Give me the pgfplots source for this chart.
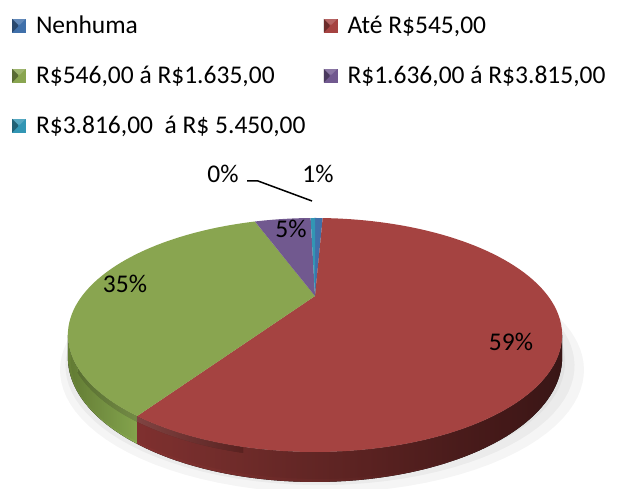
\documentclass[border=0pt]{standalone}
\usepackage{pgfplots}
\pgfplotsset{compat=1.18}
\usepgfplotslibrary{fillbetween}
\usepackage{fontspec}
\setmainfont{Carlito}
\definecolor{cBlue}{RGB}{64,112,170}
\definecolor{cRed}{RGB}{165,67,65}
\definecolor{cGreen}{RGB}{137,165,80}
\definecolor{cPurple}{RGB}{113,89,143}
\definecolor{cTeal}{RGB}{50,150,180}
\definecolor{sRedL}{RGB}{145,56,54}
\definecolor{sRedM}{RGB}{115,44,43}
\definecolor{sRedR}{RGB}{66,26,26}
\definecolor{sRedH}{RGB}{228,135,132}
\definecolor{sGreenL}{RGB}{112,140,60}
\definecolor{sGreenR}{RGB}{150,186,88}
\definecolor{sGreenH}{RGB}{192,226,118}
\newcommand{\bigfont}{\fontsize{25.5bp}{30bp}\selectfont}
% projection of the pie (angle t clockwise from the top, degrees)
\newcommand{\PX}[1]{315+233*sin(#1)/(1+cos(#1)/3)}
\newcommand{\PY}[1]{193+104*cos(#1)/(1+cos(#1)/3)}
\newcommand{\PYB}[1]{193+(104*cos(#1)-20)/(1+cos(#1)/3)}
\newcommand{\PYH}[1]{193+(104*cos(#1)-4)/(1+cos(#1)/3)}
% shares in percent
\def\vNen{0.7}\def\vAte{58.6}\def\vMid{35.2}\def\vHi{5.1}\def\vTop{0.4}
\pgfmathsetmacro\aO{0}
\pgfmathsetmacro\aA{\aO+3.6*\vNen}
\pgfmathsetmacro\aB{\aA+3.6*\vAte}
\pgfmathsetmacro\aC{\aB+3.6*\vMid}
\pgfmathsetmacro\aD{\aC+3.6*\vHi}
\pgfmathsetmacro\aE{\aD+3.6*\vTop}
\begin{document}%
\begin{tikzpicture}
\begin{axis}[width=617bp,height=489bp,scale only axis,
  xmin=0,xmax=617,ymin=0,ymax=489,hide axis,clip=false,
  legend columns=2,
  legend style={at={(axis cs:4,475)},anchor=north west,draw=none,fill=none,
    inner sep=0pt,outer sep=0pt,font=\bigfont,row sep=27bp,column sep=10bp,
    nodes={inner xsep=0pt,inner ysep=2bp}},
  legend cell align=left,
  legend image code/.code={
    \path (-8bp,0bp);
    \fill[#1] (0bp,-7bp) rectangle (14bp,7bp);
    \fill[black,opacity=0.35] (0bp,-7bp) -- (6bp,-1bp) -- (6bp,1bp) -- (0bp,7bp) -- cycle;
    \fill[white,opacity=0.18] (0bp,7bp) -- (14bp,7bp) -- (8bp,1bp) -- (6bp,1bp) -- cycle;
  },
]
% soft shadow
\addplot[forget plot,draw=none,fill=black,opacity=0.04,domain=0:360,samples=120,variable=\t]
  ({322+1.06*233*sin(\t)/(1+cos(\t)/3)},{160+1.05*104*cos(\t)/(1+cos(\t)/3)}) -- cycle;
\addplot[forget plot,draw=none,fill=black,opacity=0.04,domain=0:360,samples=120,variable=\t]
  ({320+1.03*233*sin(\t)/(1+cos(\t)/3)},{163+1.02*104*cos(\t)/(1+cos(\t)/3)}) -- cycle;
\addplot[forget plot,draw=none,fill=black,opacity=0.04,domain=0:360,samples=120,variable=\t]
  ({318+1.0*233*sin(\t)/(1+cos(\t)/3)},{166+1.0*104*cos(\t)/(1+cos(\t)/3)}) -- cycle;
% sides
\addplot[name path=rt,draw=none,forget plot,domain=109.47:\aB,samples=60,variable=\t]({\PX{\t}},{\PY{\t}});
\addplot[name path=rb,draw=none,forget plot,domain=109.47:\aB,samples=60,variable=\t]({\PX{\t}},{\PYB{\t}});
\addplot[forget plot,left color=sRedL,middle color=sRedM,right color=sRedR] fill between[of=rt and rb];
\addplot[name path=gt,draw=none,forget plot,domain=\aB:250.53,samples=30,variable=\t]({\PX{\t}},{\PY{\t}});
\addplot[name path=gb,draw=none,forget plot,domain=\aB:250.53,samples=30,variable=\t]({\PX{\t}},{\PYB{\t}});
\addplot[forget plot,left color=sGreenL,right color=sGreenR] fill between[of=gt and gb];
% bevel highlights along the rim
\addplot[name path=rht,draw=none,forget plot,domain=192:\aB,samples=30,variable=\t]({\PX{\t}},{\PY{\t}});
\addplot[name path=rhb,draw=none,forget plot,domain=192:\aB,samples=30,variable=\t]({\PX{\t}},{\PYH{\t}});
\addplot[forget plot,left color=sRedH,right color=sRedL,opacity=0.45] fill between[of=rht and rhb];
\addplot[name path=ght,draw=none,forget plot,domain=\aB:236,samples=20,variable=\t]({\PX{\t}},{\PY{\t}});
\addplot[name path=ghb,draw=none,forget plot,domain=\aB:236,samples=20,variable=\t]({\PX{\t}},{\PYH{\t}});
\addplot[forget plot,left color=sGreenR,right color=sGreenH,opacity=0.45] fill between[of=ght and ghb];
% top surfaces
\addplot[fill=cBlue,draw=none,domain=\aO:\aA,samples=5,variable=\t]
  ({\PX{\t}},{\PY{\t}}) -- (axis cs:315,193) -- cycle;
\addlegendentry{Nenhuma}
\addplot[fill=cRed,draw=none,domain=\aA:\aB,samples=90,variable=\t]
  ({\PX{\t}},{\PY{\t}}) -- (axis cs:315,193) -- cycle;
\addlegendentry{Até R\$545,00}
\addplot[fill=cGreen,draw=none,domain=\aB:\aC,samples=60,variable=\t]
  ({\PX{\t}},{\PY{\t}}) -- (axis cs:315,193) -- cycle;
\addlegendentry{R\$546,00 á R\$1.635,00}
\addplot[fill=cPurple,draw=none,domain=\aC:\aD,samples=15,variable=\t]
  ({\PX{\t}},{\PY{\t}}) -- (axis cs:315,193) -- cycle;
\addlegendentry{R\$1.636,00 á R\$3.815,00}
\addplot[fill=cTeal,draw=none,domain=\aD:\aE,samples=5,variable=\t]
  ({\PX{\t}},{\PY{\t}}) -- (axis cs:315,193) -- cycle;
\addlegendentry{R\$3.816,00\ \ á R\$ 5.450,00}
% leader line
\addplot[forget plot,black,line width=1.5bp] coordinates {(247,308) (258,308) (312,288)};
% data labels
\node[font=\bigfont] at (axis cs:511,147) {59\%};
\node[font=\bigfont] at (axis cs:125,205) {35\%};
\node[font=\bigfont] at (axis cs:291,260) {5\%};
\node[font=\bigfont] at (axis cs:223,315) {0\%};
\node[font=\bigfont] at (axis cs:318,315) {1\%};
\coordinate (BL) at (axis cs:0,0);
\coordinate (TR) at (axis cs:617,489);
\end{axis}
\pgfresetboundingbox
\useasboundingbox (BL) rectangle (TR);
\end{tikzpicture}%
\end{document}
